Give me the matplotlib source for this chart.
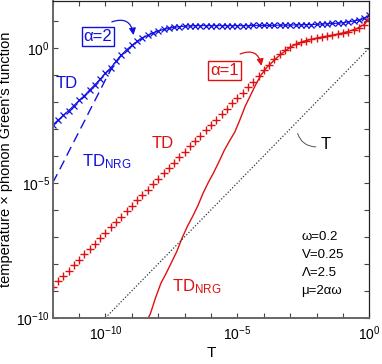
import matplotlib
matplotlib.use("Agg")
import matplotlib.pyplot as plt
import numpy as np

plt.rcParams['font.family'] = ['Liberation Sans', 'DejaVu Sans']
plt.rcParams['mathtext.fontset'] = 'custom'
plt.rcParams['mathtext.rm'] = 'Liberation Sans'
plt.rcParams['mathtext.it'] = 'Liberation Sans:italic'

# temperature grid of the TD markers (log10 T)
logT_td = np.linspace(-12, 0, 61)

# alpha = 2, TD (log10 of T*G)
blue_td = [-2.85, -2.68, -2.50, -2.33, -2.14, -1.95, -1.77, -1.56, -1.36, -1.16,
           -0.93, -0.74, -0.50, -0.27, -0.07, 0.09, 0.24, 0.37, 0.46, 0.55,
           0.62, 0.68, 0.72, 0.76, 0.78, 0.80, 0.81, 0.82, 0.82, 0.82,
           0.82, 0.82, 0.82, 0.82, 0.82, 0.82, 0.82, 0.82, 0.83, 0.83,
           0.83, 0.83, 0.83, 0.84, 0.84, 0.84, 0.85, 0.85, 0.86, 0.86,
           0.87, 0.88, 0.89, 0.90, 0.91, 0.93, 0.96, 0.99, 1.03, 1.09, 1.21]

# alpha = 1, TD
red_td = [-8.85, -8.65, -8.45, -8.25, -8.05, -7.85, -7.65, -7.45, -7.25, -7.05,
          -6.85, -6.65, -6.45, -6.25, -6.05, -5.85, -5.65, -5.45, -5.25, -5.05,
          -4.85, -4.65, -4.45, -4.25, -4.05, -3.85, -3.65, -3.45, -3.25, -3.05,
          -2.86, -2.66, -2.46, -2.26, -2.06, -1.86, -1.66, -1.46, -1.26, -1.05,
          -0.84, -0.62, -0.42, -0.24, -0.10, 0.03, 0.13, 0.21, 0.27, 0.32,
          0.36, 0.40, 0.44, 0.47, 0.51, 0.55, 0.60, 0.66, 0.74, 0.86, 1.08]

# alpha = 2, TD_NRG
logT_nrg_blue = [-12.0, -11.8, -11.6, -11.4, -11.2, -11.0, -10.8, -10.6, -10.4, -10.2,
                 -10.0, -9.8, -9.6, -9.4]
blue_nrg = [-5.00, -4.63, -4.25, -3.86, -3.48, -3.10, -2.72, -2.33, -1.95, -1.57,
            -1.18, -0.82, -0.52, -0.27]

# alpha = 1, TD_NRG
logT_nrg_red = [-8.5, -8.3, -8.1, -7.9, -7.7, -7.5, -7.3, -7.1, -6.9, -6.7,
                -6.5, -6.3, -6.1, -5.9, -5.7, -5.5, -5.3, -5.1, -4.9, -4.7,
                -4.5, -4.3, -4.1, -3.9, -3.7, -3.5, -3.3, -3.1, -2.9, -2.5,
                -2.0, -1.5, -1.0, -0.5, -0.2, 0.0]
red_nrg = [-10.25, -9.85, -9.25, -8.72, -8.35, -7.95, -7.55, -7.05, -6.62, -6.25,
           -5.85, -5.38, -4.98, -4.62, -4.22, -3.80, -3.45, -3.12, -2.65, -2.15,
           -1.75, -1.35, -1.00, -0.74, -0.55, -0.36, -0.20, -0.05, 0.08, 0.24,
           0.36, 0.45, 0.55, 0.70, 0.86, 1.08]

# reference line y = T
T_ref = [1e-10, 1.0]

blue = '#1010e0'
red = '#e01010'

fig = plt.figure(figsize=(3.82, 3.64), dpi=100)
ax = fig.add_axes([0.138, 0.127, 0.829, 0.870])

T_td = 10.0 ** logT_td
ax.plot(T_td, 10.0 ** np.array(blue_td), color=blue, lw=0.8, marker='x', ms=4.5, mew=0.9)
ax.plot(10.0 ** np.array(logT_nrg_blue), 10.0 ** np.array(blue_nrg), color=blue, lw=1.0,
        dashes=(7, 4))
ax.plot(T_td, 10.0 ** np.array(red_td), ls='none', color=red, marker='+', ms=6, mew=1.0)
ax.plot(10.0 ** np.array(logT_nrg_red), 10.0 ** np.array(red_nrg), color=red, lw=1.0)
ax.plot(T_ref, T_ref, color='#333333', lw=0.9, ls=(0, (1, 1.5)))

ax.set_xscale('log')
ax.set_yscale('log')
ax.set_xlim(1e-12, 1)
ax.set_ylim(1e-10, 10 ** 1.73)

xt = 10.0 ** np.arange(-12, 1)
yt = 10.0 ** np.arange(-10, 2)
ax.set_xticks(xt)
ax.set_yticks(yt)
ax.set_xticklabels(['$\\mathregular{10^{%d}}$' % e if e % 5 == 0 else '' for e in range(-12, 1)])
ax.set_yticklabels(['$\\mathregular{10^{%d}}$' % e if e % 5 == 0 else '' for e in range(-10, 2)])
ax.minorticks_off()
ax.tick_params(which='both', direction='in', top=True, right=True, length=3.5, width=0.8,
               labelsize=10, color='#444444')
ax.tick_params(axis='x', pad=5)
ax.tick_params(axis='y', pad=2)
for s in ['left', 'bottom']:
    ax.spines[s].set_color('#666666')
    ax.spines[s].set_linewidth(1.4)
for s in ['top', 'right']:
    ax.spines[s].set_color('#222222')
    ax.spines[s].set_linewidth(0.9)

ax.set_xlabel('T', fontsize=11, labelpad=2)
ax.set_ylabel("temperature \u00d7 phonon Green's function", fontsize=10.5, labelpad=2)

def P(lt, lg):
    return (10.0 ** lt, 10.0 ** lg)

ax.text(*P(-11.46, -1.31), 'TD', color=blue, fontsize=12, ha='center', va='center')
ax.text(*P(-10.9, -4.2), 'TD$_\\mathregular{NRG}$', color=blue, fontsize=12, ha='left', va='center')
ax.text(*P(-7.84, -3.53), 'TD', color=red, fontsize=12, ha='center', va='center')
ax.text(*P(-7.48, -8.84), 'TD$_\\mathregular{NRG}$', color=red, fontsize=12, ha='left', va='center')

ax.text(*P(-10.28, 0.40), '\u03b1=2', color=blue, fontsize=12, ha='center', va='center',
        bbox=dict(boxstyle='square,pad=0.12', fc='white', ec=blue, lw=1.0))
ax.text(*P(-5.49, -0.83), '\u03b1=1', color=red, fontsize=12, ha='center', va='center',
        bbox=dict(boxstyle='square,pad=0.12', fc='white', ec=red, lw=1.0))

ax.annotate('', xy=P(-8.94, 0.47), xytext=P(-9.76, 0.96),
            arrowprops=dict(arrowstyle='-|>,head_length=0.4,head_width=0.2', color=blue, lw=0.9,
                            connectionstyle='arc3,rad=-0.6', shrinkA=0, shrinkB=0))
ax.annotate('', xy=P(-4.09, -0.67), xytext=P(-4.9, -0.23),
            arrowprops=dict(arrowstyle='-|>,head_length=0.4,head_width=0.2', color=red, lw=0.9,
                            connectionstyle='arc3,rad=-0.6', shrinkA=0, shrinkB=0))

# T label with leader
ax.annotate('', xy=P(-2.72, -3.17), xytext=P(-2.03, -3.67),
            arrowprops=dict(arrowstyle='-', color='#555555', lw=0.7,
                            connectionstyle='arc3,rad=-0.35', shrinkA=0, shrinkB=0))
ax.text(*P(-1.65, -3.60), 'T', color='black', fontsize=12, ha='center', va='center')

params = ['\u03c9=0.2', 'V=0.25', '\u039b=2.5', '\u03bc=2\u03b1\u03c9']
for i, s in enumerate(params):
    ax.text(0.786, 0.254 - i * 0.056, s, transform=ax.transAxes, fontsize=9.5,
            ha='left', va='center')

fig.savefig('out.png', dpi=100)
